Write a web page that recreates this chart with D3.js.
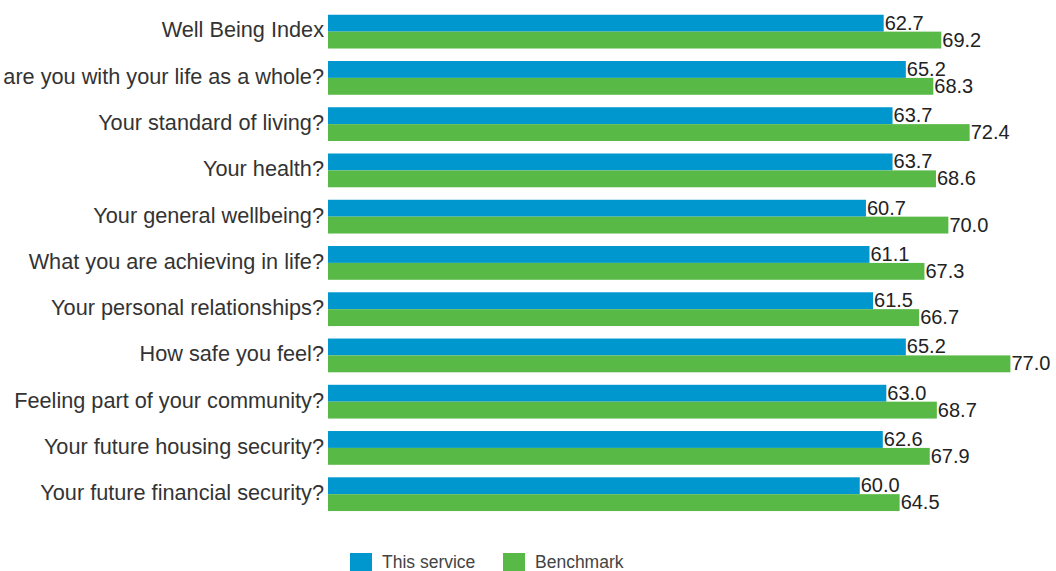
<html>
	<head>
		<meta charset="utf-8">
		<script src="https://d3js.org/d3.v7.min.js"></script>
		<style>
			body { margin: 0; background: #fff; }
			text { font-family: 'Liberation Sans', Arial, sans-serif; fill: #333; }
		</style>
	</head>
	<body>
		<svg id="svg" width="1056" height="571"></svg>
	<script>
'use strict';

const categories = [
	'Well Being Index',
	'are you with your life as a whole?',
	'Your standard of living?',
	'Your health?',
	'Your general wellbeing?',
	'What you are achieving in life?',
	'Your personal relationships?',
	'How safe you feel?',
	'Feeling part of your community?',
	'Your future housing security?',
	'Your future financial security?'
];
const this_service = [62.7, 65.2, 63.7, 63.7, 60.7, 61.1, 61.5, 65.2, 63.0, 62.6, 60.0];
const benchmark = [69.2, 68.3, 72.4, 68.6, 70.0, 67.3, 66.7, 77.0, 68.7, 67.9, 64.5];
const series_names = ['This service', 'Benchmark'];
const colours = ['#0097ce', '#59b947'];

const svg = d3.select('#svg');

const x = d3.scaleLinear().domain([0, 80]).range([328, 1037]);
const y = d3.scaleBand().domain(categories).range([8.5, 517.3]).paddingInner(0.27).paddingOuter(0.135);
const sub = d3.scaleBand().domain([0, 1]).range([0, y.bandwidth()]);

const rows = categories.map((c, i) => ({c, vals: [this_service[i], benchmark[i]]}));

// category labels
svg.append('g')
	.selectAll('text')
	.data(categories)
	.join('text')
	.attr('x', 324)
	.attr('y', d => y(d) + y.bandwidth() / 2)
	.attr('dy', '0.27em')
	.attr('text-anchor', 'end')
	.style('font-size', '21.7px')
	.text(d => d);

const groups = svg.append('g')
	.selectAll('g')
	.data(rows)
	.join('g')
	.attr('transform', d => `translate(0,${y(d.c)})`);

groups.selectAll('rect')
	.data(d => d.vals)
	.join('rect')
	.attr('x', x(0))
	.attr('y', (d, i) => sub(i))
	.attr('width', d => x(d) - x(0))
	.attr('height', sub.bandwidth())
	.attr('fill', (d, i) => colours[i]);

groups.selectAll('text')
	.data(d => d.vals)
	.join('text')
	.attr('x', d => x(d) + 1)
	.attr('y', (d, i) => sub(i) + sub.bandwidth() - 2)
	.style('font-size', '20px')
	.style('fill', '#222')
	.text(d => d.toFixed(1));

// legend
const legend = svg.append('g')
	.selectAll('g')
	.data(series_names)
	.join('g')
	.attr('transform', (d, i) => `translate(${i === 0 ? 350 : 503},553)`);

legend.append('rect')
	.attr('width', 22)
	.attr('height', 22)
	.attr('fill', (d, i) => colours[i]);

legend.append('text')
	.attr('x', 32)
	.attr('y', 15)
	.style('font-size', '17.5px')
	.style('fill', '#444')
	.text(d => d);
	</script>
	</body>
</html>
